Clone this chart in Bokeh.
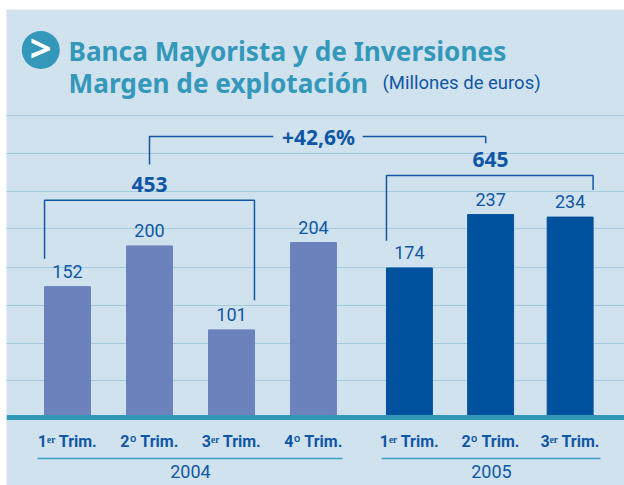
from bokeh.plotting import figure
from bokeh.models import Range1d, FixedTicker, LinearAxis, Label, ColumnDataSource, Grid
from bokeh.core.properties import value
from bokeh.embed import file_html
from bokeh.resources import INLINE

quarters_2004 = ["1ᵉʳ Trim.", "2º Trim.", "3ᵉʳ Trim.", "4º Trim."]
quarters_2005 = ["1ᵉʳ Trim.", "2º Trim.", "3ᵉʳ Trim."]
values_2004 = [152, 200, 101, 204]
values_2005 = [174, 237, 234]
slots_2004 = [0, 1, 2, 3]
slots_2005 = [4.17, 5.16, 6.13]
years = ["2004", "2005"]
year_slots = [1.5, 5.17]
totals = ["453", "645"]
growth = "+42,6%"
grid_levels = [41, 85, 130, 175, 220, 264, 309, 354]

BAR = 0.56
NAVY = "#0f57a4"
TEAL = "#3398ba"
PANEL = "#d0e2ee"
NARROW = "Roboto"
SANS = "Noto Sans"

p = figure(width=618, height=476, output_backend="svg", toolbar_location=None,
           x_range=Range1d(-0.744, 6.793), y_range=Range1d(-82.5, 478.8),
           min_border=0, outline_line_color=None,
           background_fill_color=PANEL, border_fill_color=PANEL,
           x_axis_location=None, y_axis_location=None)
p.styles = {"margin": "9px 0 0 6px"}
p.xgrid.visible = False
p.ygrid.visible = False

yaxis = LinearAxis(ticker=FixedTicker(ticks=grid_levels), visible=False)
p.add_layout(yaxis, "left")
p.add_layout(Grid(dimension=1, ticker=yaxis.ticker, grid_line_color="#a0cbe0", grid_line_width=1, level="underlay"))

s04 = ColumnDataSource(dict(x=slots_2004, top=values_2004, t=[str(v) for v in values_2004]))
s05 = ColumnDataSource(dict(x=slots_2005, top=values_2005, t=[str(v) for v in values_2005]))
p.vbar(x="x", top="top", bottom=0, width=BAR, color="#6b82bd", source=s04)
p.vbar(x="x", top="top", bottom=0, width=BAR, color="#00519e", source=s05)
for s in (s04, s05):
    p.text(x="x", y="top", text="t", source=s, text_align="center", text_baseline="bottom",
           y_offset=-9, text_font=value(NARROW), text_font_size="18px", text_color=NAVY)

br_x = [[slots_2004[0]-BAR/2, slots_2004[0]-BAR/2, slots_2004[2]+BAR/2, slots_2004[2]+BAR/2],
        [slots_2005[0]-BAR/2, slots_2005[0]-BAR/2, slots_2005[2]+BAR/2, slots_2005[2]+BAR/2],
        [slots_2004[1], slots_2004[1], 2.51],
        [3.6, 5.1, 5.1]]
br_y = [[185, 254, 254, 136], [206, 283, 283, 266], [296, 329, 329], [329, 329, 321]]
p.multi_line(br_x, br_y, line_color=NAVY, line_width=1.5)

p.text(x=[slots_2004[1], slots_2005[1]], y=[272, 302], text=totals, text_align="center",
       text_baseline="middle", text_font=value(SANS), text_font_style="bold",
       text_font_size="21px", text_color=NAVY)
p.text(x=[3.06], y=[329], text=[growth], text_align="center", text_baseline="middle",
       text_font=value(SANS), text_font_style="bold", text_font_size="21px", text_color=NAVY)

p.segment(x0=[-0.366, 3.83], y0=[-50.7, -50.7], x1=[3.354, 6.5], y1=[-50.7, -50.7],
          line_color="#3a9fc6", line_width=1.5)

qaxis = LinearAxis(ticker=FixedTicker(ticks=slots_2004 + slots_2005),
                   major_label_overrides=dict(zip(slots_2004 + slots_2005, quarters_2004 + quarters_2005)),
                   fixed_location=-2.4, axis_line_color=TEAL, axis_line_width=5,
                   major_tick_line_color=None, minor_tick_line_color=None,
                   major_label_standoff=8, major_label_text_color=NAVY,
                   major_label_text_font=NARROW, major_label_text_font_size="16px",
                   major_label_text_font_style="bold")
p.add_layout(qaxis, "below")
yearaxis = LinearAxis(ticker=FixedTicker(ticks=year_slots),
                      major_label_overrides=dict(zip(year_slots, years)),
                      fixed_location=-50, axis_line_color=None,
                      major_tick_line_color=None, minor_tick_line_color=None,
                      major_label_standoff=1, major_label_text_color=NAVY,
                      major_label_text_font=NARROW, major_label_text_font_size="18px")
p.add_layout(yearaxis, "below")

p.scatter(x=[-0.326], y=[431], size=38, color=TEAL, line_color=None)
p.add_layout(Label(x=34, y=439, x_units="screen", y_units="screen", text=">", text_align="center",
                   text_baseline="alphabetic", text_color="white", text_font=SANS, text_font_style="bold", text_font_size="38px"))
p.add_layout(Label(x=62, y=435, x_units="screen", y_units="screen", text="Banca Mayorista y de Inversiones",
                   text_baseline="alphabetic", text_color=TEAL, text_font=SANS, text_font_style="bold", text_font_size="26.2px"))
p.add_layout(Label(x=62, y=403, x_units="screen", y_units="screen", text="Margen de explotación",
                   text_baseline="alphabetic", text_color=TEAL, text_font=SANS, text_font_style="bold", text_font_size="26.2px"))
p.add_layout(Label(x=376, y=403, x_units="screen", y_units="screen", text="(Millones de euros)",
                   text_baseline="alphabetic", text_color=NAVY, text_font=NARROW, text_font_size="18.5px"))

open("out.html", "w").write(file_html(p, INLINE))
